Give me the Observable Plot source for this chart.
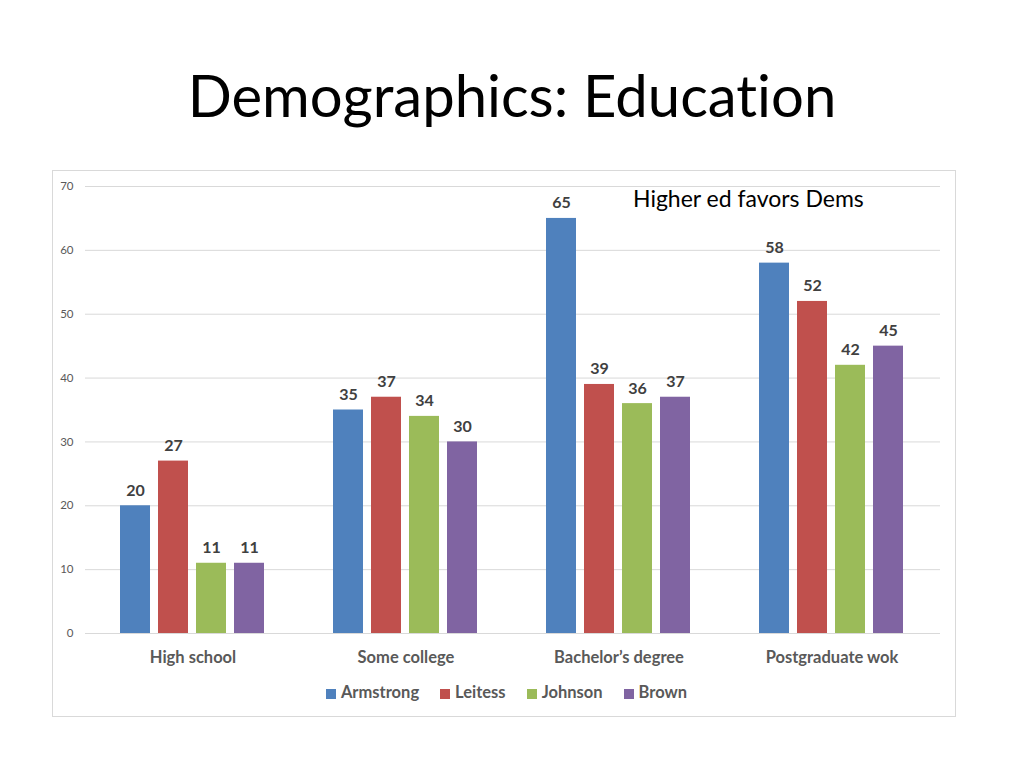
<!DOCTYPE html>
<html><head><meta charset="utf-8">
<script src="https://cdn.jsdelivr.net/npm/d3@7"></script>
<script src="https://cdn.jsdelivr.net/npm/@observablehq/plot@0.6"></script>
<style>
body{margin:0;background:#fff;font-family:Lato,sans-serif;font-variant-ligatures:none}
#page{position:relative;width:1024px;height:768px;overflow:hidden;background:#fff}
#title{position:absolute;left:0;width:1024px;top:60px;text-align:center;font-size:58px;font-weight:400;color:#000;line-height:1.2;white-space:nowrap}
#box{position:absolute;left:52px;top:170px;width:902px;height:545px;border:1px solid #d9d9d9}
.chart{position:absolute;left:52px;top:170px}
#note{position:absolute;left:633px;top:185px;font-size:23px;line-height:1.2;color:#000;white-space:nowrap}
#legend{position:absolute;top:683px;left:0;width:1013px;display:flex;justify-content:center;gap:21px;font-size:16.5px;line-height:1.2;font-weight:bold;color:#595959}
#legend .item{display:flex;align-items:center}
#legend .sw{width:10px;height:10px;margin-right:5px;margin-top:2px}
svg text{font-variant-ligatures:none}
</style></head>
<body><div id="page">
<div id="title">Demographics: Education</div>
<div id="box"></div>
<div id="grid" class="chart"></div>
<div id="chart" class="chart"></div>
<div id="note">Higher ed favors Dems</div>
<div id="legend"></div>
</div>
<script>
const categories = ["High school", "Some college", "Bachelor’s degree", "Postgraduate wok"];
const series = ["Armstrong", "Leitess", "Johnson", "Brown"];
const armstrong = [20, 35, 65, 58];
const leitess = [27, 37, 39, 52];
const johnson = [11, 34, 36, 42];
const brown = [11, 30, 37, 45];
const yTicks = [0, 10, 20, 30, 40, 50, 60, 70];
const colors = ["#4f81bd", "#c0504d", "#9bbb59", "#8064a2"];

const seriesValues = [armstrong, leitess, johnson, brown];
const data = [];
categories.forEach((c, i) => {
  series.forEach((s, j) => data.push({category: c, series: s, value: seriesValues[j][i]}));
});

const common = {
  width: 904,
  height: 503,
  marginLeft: 33,
  marginRight: 16,
  marginTop: 16,
  marginBottom: 40,
  style: {fontFamily: "Lato, sans-serif", background: "transparent", overflow: "visible"},
  y: {domain: [0, 70], axis: null}
};

// background: gridlines and y tick labels across the whole frame
const grid = Plot.plot({
  ...common,
  x: {axis: null},
  marks: [
    Plot.ruleY(yTicks, {y: d => d, stroke: "#d9d9d9", strokeWidth: 1}),
    Plot.text(yTicks, {y: d => d, text: d => String(d), frameAnchor: "left", textAnchor: "end", dx: -12, fontSize: 11.5, fill: "#595959"})
  ]
});
document.getElementById("grid").appendChild(grid);

// foreground: grouped bars
const chart = Plot.plot({
  ...common,
  fx: {domain: categories, paddingInner: 0.3076, paddingOuter: 0.1538, label: null},
  x: {domain: series, paddingInner: 8/39, paddingOuter: 0, axis: null},
  color: {domain: series, range: colors},
  marks: [
    Plot.barY(data, {fx: "category", x: "series", y: "value", fill: "series"}),
    Plot.text(data, {fx: "category", x: "series", y: "value", text: d => String(d.value), lineAnchor: "bottom", dy: -10, fontSize: 16, fontWeight: "bold", fill: "#404040"}),
    Plot.axisFx({anchor: "bottom", tickSize: 0, tickPadding: 18, fontSize: 16.5, fontWeight: "bold", fill: "#595959", label: null})
  ]
});
document.getElementById("chart").appendChild(chart);

const legend = d3.select("#legend");
series.forEach((s, i) => {
  const item = legend.append("div").attr("class", "item");
  item.append("div").attr("class", "sw").style("background", colors[i]);
  item.append("span").text(s);
});
</script>
</body></html>
